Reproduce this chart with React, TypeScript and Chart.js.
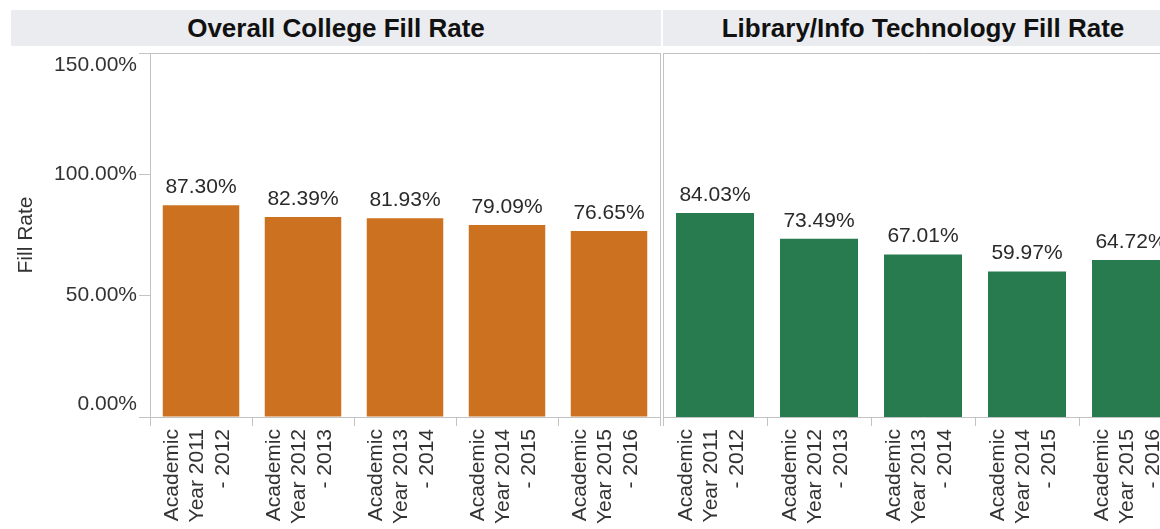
import React, { useEffect, useRef } from "react";
import { Chart, registerables } from "chart.js";

Chart.register(...registerables);

const categories = [
  "Academic Year 2011 - 2012",
  "Academic Year 2012 - 2013",
  "Academic Year 2013 - 2014",
  "Academic Year 2014 - 2015",
  "Academic Year 2015 - 2016",
];
const overallFillRate = [87.3, 82.39, 81.93, 79.09, 76.65];
const libraryFillRate = [84.03, 73.49, 67.01, 59.97, 64.72];
const yTicks = [0, 50, 100, 150];
const panelTitles = ["Overall College Fill Rate", "Library/Info Technology Fill Rate"];
const yAxisTitle = "Fill Rate";

const FONT = '"Liberation Sans", Arial, Helvetica, sans-serif';
const ORANGE = "#CC7120";
const GREEN = "#287B4E";
const FRAME = "#c3c3c3";
const TEXT = "#333333";

function splitCategory(c: string): string[] {
  const m = c.match(/^(\S+) (Year \d+) (- \d+)$/);
  return m ? [m[1], m[2], m[3]] : [c];
}

function fmt(v: number): string {
  return v.toFixed(2) + "%";
}

const framePlugin = {
  id: "frame",
  afterDatasetsDraw(chart: any) {
    const { ctx, chartArea } = chart;
    const { left, right, top, bottom } = chartArea;
    ctx.save();
    ctx.strokeStyle = FRAME;
    ctx.lineWidth = 1;
    ctx.beginPath();
    ctx.moveTo(left, top + 0.5);
    ctx.lineTo(right + 1, top + 0.5);
    ctx.moveTo(left + 0.5, top);
    ctx.lineTo(left + 0.5, bottom + 1);
    ctx.moveTo(right + 0.5, top);
    ctx.lineTo(right + 0.5, bottom + 1);
    ctx.moveTo(left, bottom + 0.5);
    ctx.lineTo(right + 1, bottom + 0.5);
    ctx.stroke();
    ctx.restore();
  },
};

const valueLabelPlugin = {
  id: "valueLabels",
  afterDatasetsDraw(chart: any) {
    const { ctx } = chart;
    const meta = chart.getDatasetMeta(0);
    const data = chart.data.datasets[0].data as number[];
    ctx.save();
    ctx.font = `21px ${FONT}`;
    ctx.fillStyle = "#2a2a2a";
    ctx.textAlign = "center";
    ctx.textBaseline = "alphabetic";
    meta.data.forEach((bar: any, i: number) => {
      ctx.fillText(fmt(data[i]), bar.x, bar.y - 12);
    });
    ctx.restore();
  },
};

function makeConfig(values: number[], color: string, showY: boolean): any {
  const tickFont = { family: FONT, size: 21 };
  const yMin = Math.min(...yTicks);
  const yMax = Math.max(...yTicks);
  return {
    type: "bar",
    data: {
      labels: categories.map(splitCategory),
      datasets: [
        {
          data: values,
          backgroundColor: color,
          borderWidth: 0,
          barPercentage: 0.75,
          categoryPercentage: 1,
        },
      ],
    },
    options: {
      responsive: false,
      maintainAspectRatio: false,
      animation: false,
      events: [],
      layout: { padding: { top: 53, right: 2, left: 0, bottom: 0 } },
      plugins: {
        legend: { display: false },
        tooltip: { enabled: false },
        title: { display: false },
      },
      scales: {
        x: {
          offset: true,
          grid: {
            display: true,
            offset: true,
            drawOnChartArea: false,
            drawTicks: true,
            tickLength: 9,
            color: FRAME,
          },
          border: { display: false },
          ticks: {
            autoSkip: false,
            maxRotation: 90,
            minRotation: 90,
            labelOffset: -28.5,
            padding: 3,
            color: TEXT,
            font: tickFont,
          },
          afterFit: (s: any) => {
            s.height = 112;
            s.paddingLeft = 0;
            s.paddingRight = 0;
          },
        },
        y: {
          display: showY,
          min: yMin,
          max: yMax,
          afterBuildTicks: (s: any) => {
            s.ticks = yTicks.map((v) => ({ value: v }));
          },
          ticks: {
            padding: 2,
            color: TEXT,
            font: tickFont,
            callback: (v: any) => {
              const n = Number(v);
              const s = fmt(n);
              if (n === yMax) return ["", s];
              if (n === yMin) return [s, ""];
              return s;
            },
          },
          grid: {
            drawOnChartArea: false,
            drawTicks: true,
            tickLength: 11,
            color: FRAME,
          },
          border: { display: false },
          title: {
            display: true,
            text: yAxisTitle,
            color: TEXT,
            font: tickFont,
            padding: { top: 14, bottom: 0 },
          },
          afterFit: (s: any) => {
            s.width = showY ? 150 : 0;
            s.paddingTop = 0;
            s.paddingBottom = 0;
          },
        },
      },
    },
    plugins: [framePlugin, valueLabelPlugin],
  };
}

function useChart(ref: React.RefObject<HTMLCanvasElement>, values: number[], color: string, showY: boolean) {
  useEffect(() => {
    if (!ref.current) return;
    const chart = new Chart(ref.current, makeConfig(values, color, showY));
    return () => chart.destroy();
  }, []);
}

const headerStyle: React.CSSProperties = {
  position: "absolute",
  top: 10,
  height: 36,
  lineHeight: "36px",
  background: "#ebecef",
  color: "#111",
  fontFamily: FONT,
  fontWeight: "bold",
  fontSize: 26,
  textAlign: "center",
  whiteSpace: "nowrap",
  overflow: "visible",
};

export default function App() {
  const leftRef = useRef<HTMLCanvasElement>(null);
  const rightRef = useRef<HTMLCanvasElement>(null);
  useChart(leftRef, overallFillRate, ORANGE, true);
  useChart(rightRef, libraryFillRate, GREEN, false);

  return (
    <div
      style={{
        position: "absolute",
        left: 0,
        top: 0,
        width: 1160,
        height: 529,
        overflow: "hidden",
        background: "#ffffff",
      }}
    >
      <div style={{ ...headerStyle, left: 11, width: 650 }}>{panelTitles[0]}</div>
      <div style={{ ...headerStyle, left: 663, width: 520 }}>{panelTitles[1]}</div>
      <canvas
        ref={leftRef}
        width={662}
        height={529}
        style={{ position: "absolute", left: 0, top: 0, display: "block" }}
      />
      <canvas
        ref={rightRef}
        width={522}
        height={529}
        style={{ position: "absolute", left: 663, top: 0, display: "block" }}
      />
    </div>
  );
}
